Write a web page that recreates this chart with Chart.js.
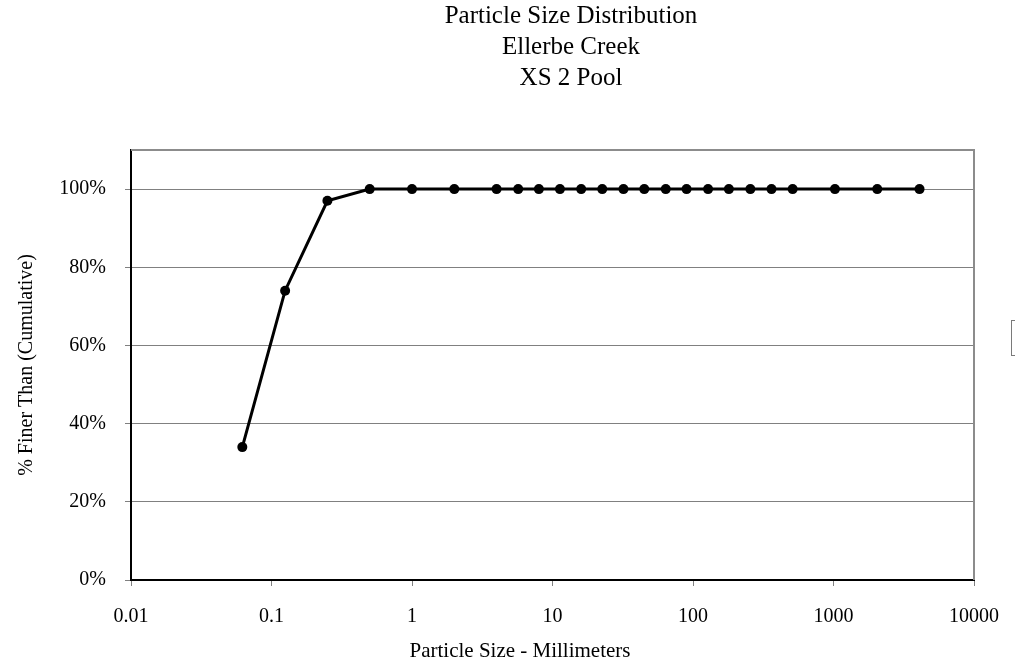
<!DOCTYPE html>
<html>
<head>
<meta charset="utf-8">
<script src="https://cdn.jsdelivr.net/npm/chart.js@4.4.0/dist/chart.umd.min.js"></script>
<style>
  html, body { margin: 0; padding: 0; background: #ffffff; }
  #wrap { width: 1015px; height: 670px; }
</style>
</head>
<body>
<div id="wrap"><canvas id="psd"></canvas></div>
<script>
// sieve sizes (mm) and cumulative % finer
var tamanos = [0.062, 0.125, 0.25, 0.5, 1, 2, 4, 5.7, 8, 11.3, 16, 22.6, 32, 45, 64, 90, 128, 180, 256, 362, 512, 1024, 2048, 4096];
var finos = [34, 74, 97, 100, 100, 100, 100, 100, 100, 100, 100, 100, 100, 100, 100, 100, 100, 100, 100, 100, 100, 100, 100, 100];
var decadas = [0.01, 0.1, 1, 10, 100, 1000, 10000];
var titulo = ["Particle Size Distribution", "Ellerbe Creek", "XS 2 Pool"];
var tituloX = "Particle Size - Millimeters";
var tituloY = "% Finer Than (Cumulative)";

var fuente = "'Liberation Serif', 'Times New Roman', serif";

var puntos = [];
for (var i = 0; i < tamanos.length; i++) {
	puntos[puntos.length] = {x: tamanos[i], y: finos[i]};
}

// frame, texts and the clipped legend box
var extras = {
	id: "extras",
	afterDraw: function (chart) {
		var c = chart.ctx;
		var a = chart.chartArea;
		c.save();
		c.strokeStyle = "#8c8c8c";
		c.lineWidth = 2;
		c.beginPath();
		c.moveTo(a.left, a.top);
		c.lineTo(a.right, a.top);
		c.lineTo(a.right, a.bottom);
		c.stroke();

		c.lineWidth = 1;
		c.strokeStyle = "#7a7a7a";
		c.strokeRect(1011.5, 320.5, 30, 35);

		c.fillStyle = "#000000";
		c.textAlign = "center";
		c.textBaseline = "middle";
		c.font = "25px " + fuente;
		for (var k = 0; k < titulo.length; k++) {
			c.fillText(titulo[k], 571, 16 + k * 31);
		}
		c.font = "21px " + fuente;
		c.fillText(tituloX, 520, 651);
		c.restore();
	}
};

Chart.defaults.color = "#000000";
Chart.defaults.font.family = fuente;

var ctx = document.getElementById("psd").getContext("2d");
var grafico = new Chart(ctx, {
	type: "line",
	data: {
		datasets: [{
			data: puntos,
			borderColor: "#000000",
			backgroundColor: "#000000",
			borderWidth: 3,
			pointRadius: 5,
			pointHoverRadius: 5,
			pointBackgroundColor: "#000000",
			pointBorderWidth: 0,
			tension: 0
		}]
	},
	options: {
		responsive: true,
		maintainAspectRatio: false,
		animation: false,
		layout: { padding: { left: 8, right: 41, top: 150, bottom: 0 } },
		plugins: {
			legend: { display: false },
			tooltip: { enabled: false },
			title: { display: false }
		},
		scales: {
			x: {
				type: "logarithmic",
				min: 0.01,
				max: 10000,
				afterBuildTicks: function (scale) {
					scale.ticks = decadas.map(function (v) { return {value: v}; });
				},
				afterFit: function (scale) {
					scale.height = 90;
					scale.paddingLeft = 0;
					scale.paddingRight = 0;
				},
				ticks: {
					autoSkip: false,
					maxRotation: 0,
					padding: 19,
					font: { size: 20 },
					callback: function (v) { return String(v); }
				},
				grid: {
					drawOnChartArea: false,
					drawTicks: true,
					tickLength: 6,
					tickColor: "#808080"
				},
				border: { color: "#000000", width: 2 }
			},
			y: {
				min: 0,
				max: 110,
				afterFit: function (scale) { scale.width = 123; },
				ticks: {
					stepSize: 20,
					includeBounds: false,
					padding: 19,
					font: { size: 20 },
					callback: function (v) { return v + "%"; }
				},
				grid: {
					color: "#808080",
					lineWidth: 1,
					tickLength: 6,
					tickColor: "#808080"
				},
				border: { color: "#000000", width: 2 },
				title: {
					display: true,
					text: tituloY,
					font: { size: 20 },
					padding: { top: 7, bottom: 0 }
				}
			}
		}
	},
	plugins: [extras]
});
</script>
</body>
</html>
